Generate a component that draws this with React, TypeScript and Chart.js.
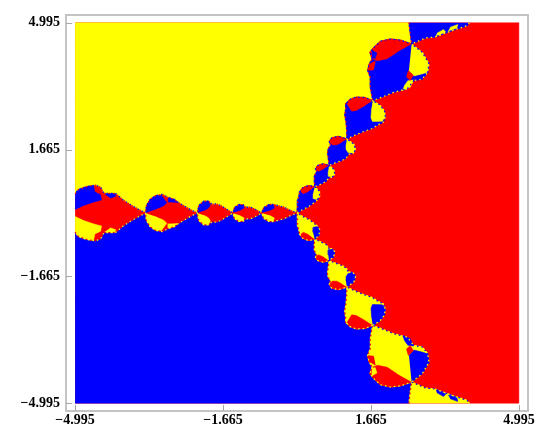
import React, { useEffect, useRef } from "react";
import { Chart, registerables } from "chart.js";

Chart.register(...registerables);

type P = number[];

const tickValues = [-4.995, -1.665, 1.665, 4.995];
const tickLabels = ["\u22124.995", "\u22121.665", "1.665", "4.995"];

const RED = "#ff0000";
const YELLOW = "#ffff00";
const BLUE = "#0000ff";

// Whole plot
const plotSquare: P[] = [[-4.995, -4.995], [4.995, -4.995], [4.995, 4.995], [-4.995, 4.995]];

// Left arm edges, outer end to centre
const leftArmUpper: P[] = [[-4.995,.5],[-4.92,.62],[-4.72,.7],[-4.53,.73],[-4.42,.68],[-4.35,.52],[-4.08,.51],[-3.9,.33],[-3.68,.17],[-3.41,0],[-3.39,.2],[-3.3,.37],[-3.18,.46],[-3.03,.49],[-2.92,.42],[-2.77,.36],[-2.62,.24],[-2.4,.09],[-2.245,0],[-2.21,.2],[-2.1,.31],[-1.985,.31],[-1.91,.225],[-1.83,.24],[-1.72,.2],[-1.57,.09],[-1.445,0],[-1.41,.14],[-1.31,.225],[-1.21,.22],[-1.16,.155],[-1.05,.155],[-.93,.09],[-.8,0],[-.75,.14],[-.63,.225],[-.52,.225],[-.445,.2],[-.3,.155],[-.15,.07],[0,0]];
const leftArmLower: P[] = [[-4.995,-.5],[-4.92,-.62],[-4.72,-.7],[-4.53,-.73],[-4.42,-.68],[-4.35,-.52],[-4.08,-.51],[-3.9,-.33],[-3.68,-.17],[-3.41,0],[-3.39,-.2],[-3.3,-.37],[-3.18,-.46],[-3.03,-.49],[-2.92,-.42],[-2.77,-.36],[-2.62,-.24],[-2.4,-.09],[-2.245,0],[-2.21,-.2],[-2.1,-.31],[-1.985,-.31],[-1.91,-.225],[-1.83,-.24],[-1.72,-.2],[-1.57,-.09],[-1.445,0],[-1.41,-.14],[-1.31,-.225],[-1.21,-.22],[-1.16,-.155],[-1.05,-.155],[-.93,-.09],[-.8,0],[-.75,-.14],[-.63,-.225],[-.52,-.225],[-.445,-.2],[-.3,-.155],[-.15,-.07],[0,0]];

// Upper arm edges
const upperArmLeft: P[] = [[2.52,4.995],[2.54,4.79],[2.58,4.44],[2.33,4.54],[2.1,4.57],[1.88,4.51],[1.73,4.35],[1.64,4.22],[1.69,4.05],[1.62,3.9],[1.59,3.74],[1.65,3.56],[1.65,3.3],[1.705,2.95],[1.522,3.036],[1.33,3.043],[1.192,2.984],[1.091,2.869],[1.096,2.739],[1.073,2.579],[1.102,2.389],[1.122,2.123],[1.122,1.944],[.932,2.014],[.782,1.974],[.725,1.874],[.76,1.767],[.707,1.705],[.687,1.59],[.707,1.405],[.7225,1.251],[.584,1.291],[.46,1.247],[.414,1.158],[.446,1.083],[.391,.987],[.387,.85],[.4,.693],[.254,.72],[.12,.659],[.065,.563],[.05,.485],[.016,.338],[.014,.165],[0,0]];
const upperArmRight: P[] = [[3.88,4.995],[3.83,4.92],[3.6,4.83],[3.4,4.75],[3.1,4.62],[2.9,4.6],[2.58,4.44],[2.82,4.22],[2.97,3.92],[2.94,3.69],[2.82,3.52],[2.63,3.48],[2.48,3.26],[2.18,3.17],[1.99,3.08],[1.705,2.95],[1.868,2.836],[1.97,2.673],[1.988,2.524],[1.939,2.379],[1.824,2.319],[1.697,2.219],[1.518,2.149],[1.278,2.033],[1.122,1.944],[1.278,1.814],[1.318,1.664],[1.261,1.564],[1.15,1.541],[1.123,1.465],[1.033,1.39],[.863,1.315],[.7225,1.251],[.826,1.151],[.85,1.021],[.796,.938],[.714,.927],[.659,.831],[.543,.76],[.4,.693],[.496,.58],[.51,.433],[.455,.337],[.396,.285],[.284,.182],[.136,.095],[0,0]];

// Lower arm edges
const lowerArmLeft: P[] = [[2.52,-4.995],[2.54,-4.79],[2.58,-4.44],[2.33,-4.54],[2.1,-4.57],[1.88,-4.51],[1.73,-4.35],[1.64,-4.22],[1.69,-4.05],[1.62,-3.9],[1.59,-3.74],[1.65,-3.56],[1.65,-3.3],[1.705,-2.95],[1.522,-3.036],[1.33,-3.043],[1.192,-2.984],[1.091,-2.869],[1.096,-2.739],[1.073,-2.579],[1.102,-2.389],[1.122,-2.123],[1.122,-1.944],[.932,-2.014],[.782,-1.974],[.725,-1.874],[.76,-1.767],[.707,-1.705],[.687,-1.59],[.707,-1.405],[.7225,-1.251],[.584,-1.291],[.46,-1.247],[.414,-1.158],[.446,-1.083],[.391,-.987],[.387,-.85],[.4,-.693],[.254,-.72],[.12,-.659],[.065,-.563],[.05,-.485],[.016,-.338],[.014,-.165],[0,0]];
const lowerArmRight: P[] = [[3.88,-4.995],[3.83,-4.92],[3.6,-4.83],[3.4,-4.75],[3.1,-4.62],[2.9,-4.6],[2.58,-4.44],[2.82,-4.22],[2.97,-3.92],[2.94,-3.69],[2.82,-3.52],[2.63,-3.48],[2.48,-3.26],[2.18,-3.17],[1.99,-3.08],[1.705,-2.95],[1.868,-2.836],[1.97,-2.673],[1.988,-2.524],[1.939,-2.379],[1.824,-2.319],[1.697,-2.219],[1.518,-2.149],[1.278,-2.033],[1.122,-1.944],[1.278,-1.814],[1.318,-1.664],[1.261,-1.564],[1.15,-1.541],[1.123,-1.465],[1.033,-1.39],[.863,-1.315],[.7225,-1.251],[.826,-1.151],[.85,-1.021],[.796,-.938],[.714,-.927],[.659,-.831],[.543,-.76],[.4,-.693],[.496,-.58],[.51,-.433],[.455,-.337],[.396,-.285],[.284,-.182],[.136,-.095],[0,0]];

// Lobes on the left arm
const blueLobesLeft: P[][] = [
  [[-4.995,.5],[-4.92,.62],[-4.72,.7],[-4.58,.72],[-4.55,.55],[-4.42,.48],[-4.4,.34],[-4.57,.29],[-4.8,.2],[-4.995,.09]],
  [[-4.33,.5],[-4.1,.52],[-4.08,.44],[-4.2,.39]],
  [[-3.41,0],[-3.39,.2],[-3.3,.37],[-3.18,.46],[-3.05,.46],[-2.98,.35],[-2.93,.27],[-3,.19],[-3.22,.08]],
  [[-2.9,.28],[-2.9,.4],[-2.75,.36],[-2.68,.27]],
  [[-2.245,0],[-2.21,.2],[-2.1,.31],[-1.985,.31],[-1.95,.2],[-2,.12],[-2.1,.06]],
  [[-1.445,0],[-1.41,.14],[-1.31,.225],[-1.21,.21],[-1.19,.13],[-1.3,.06]],
  [[-.8,0],[-.75,.14],[-.63,.225],[-.53,.21],[-.51,.13],[-.62,.06]],
];
const yellowLobesLeft: P[][] = [
  [[-4.995,-.5],[-4.92,-.62],[-4.72,-.7],[-4.58,-.72],[-4.55,-.55],[-4.42,-.48],[-4.4,-.34],[-4.57,-.29],[-4.8,-.2],[-4.995,-.09]],
  [[-4.33,-.5],[-4.1,-.52],[-4.08,-.44],[-4.2,-.39]],
  [[-3.41,0],[-3.39,-.2],[-3.3,-.37],[-3.18,-.46],[-3.05,-.46],[-2.98,-.35],[-2.93,-.27],[-3,-.19],[-3.22,-.08]],
  [[-2.9,-.28],[-2.9,-.4],[-2.75,-.36],[-2.68,-.27]],
  [[-2.245,0],[-2.21,-.2],[-2.1,-.31],[-1.985,-.31],[-1.95,-.2],[-2,-.12],[-2.1,-.06]],
  [[-1.445,0],[-1.41,-.14],[-1.31,-.225],[-1.21,-.21],[-1.19,-.13],[-1.3,-.06]],
  [[-.8,0],[-.75,-.14],[-.63,-.225],[-.53,-.21],[-.51,-.13],[-.62,-.06]],
];

// Lobes on the upper arm
const yellowLobesUpper: P[][] = [
  [[2.58,4.44],[2.82,4.22],[2.97,3.92],[2.94,3.69],[2.82,3.65],[2.63,3.6],[2.52,3.74]],
  [[2.62,3.5],[2.55,3.3],[2.38,3.22],[2.42,3.35],[2.5,3.48]],
  [[3.12,4.63],[3.35,4.75],[3.3,4.82],[3.15,4.72]],
  [[3.4,4.77],[3.6,4.85],[3.62,4.95],[3.45,4.88]],
  [[1.705,2.95],[1.868,2.836],[1.97,2.673],[1.988,2.524],[1.923,2.411],[1.793,2.406],[1.699,2.402],[1.665,2.503],[1.679,2.749]],
  [[1.122,1.944],[1.278,1.814],[1.318,1.664],[1.261,1.564],[1.148,1.589],[1.104,1.672],[1.102,1.789]],
  [[.7225,1.251],[.826,1.151],[.85,1.021],[.787,.943],[.708,.966],[.702,1.096]],
  [[.4,.693],[.496,.58],[.51,.433],[.447,.354],[.368,.377],[.362,.507]],
];
const redLobesUpper: P[][] = [
  [[2.58,4.44],[2.33,4.54],[2.1,4.57],[1.88,4.51],[1.73,4.35],[1.64,4.22],[1.69,4.05],[1.82,4],[2.03,4.05],[2.25,4.22]],
  [[1.77,4],[1.62,3.9],[1.59,3.74],[1.73,3.76]],
  [[2.5,3.74],[2.62,3.62],[2.55,3.48],[2.46,3.58]],
  [[1.705,2.95],[1.522,3.036],[1.33,3.043],[1.192,2.984],[1.127,2.871],[1.187,2.756],[1.231,2.672],[1.335,2.693],[1.541,2.829]],
  [[1.122,1.944],[.932,2.014],[.782,1.974],[.725,1.874],[.802,1.789],[.896,1.792],[.998,1.849]],
  [[.7225,1.251],[.584,1.291],[.46,1.247],[.423,1.153],[.482,1.096],[.598,1.156]],
  [[.4,.693],[.254,.72],[.12,.659],[.083,.564],[.142,.507],[.258,.567]],
];
const blueDetailsUpper: P[][] = [
  [[2.64,3.56],[2.82,3.63],[2.94,3.68],[2.82,3.52],[2.65,3.48]],
  [[1.68,4.28],[1.8,4.2],[1.76,4.06],[1.68,4.08]],
];

// Lobes on the lower arm
const blueLobesLower: P[][] = [
  [[2.58,-4.44],[2.82,-4.22],[2.97,-3.92],[2.94,-3.69],[2.82,-3.65],[2.63,-3.6],[2.52,-3.74]],
  [[2.62,-3.5],[2.55,-3.3],[2.38,-3.22],[2.42,-3.35],[2.5,-3.48]],
  [[3.12,-4.63],[3.35,-4.75],[3.3,-4.82],[3.15,-4.72]],
  [[3.4,-4.77],[3.6,-4.85],[3.62,-4.95],[3.45,-4.88]],
  [[1.705,-2.95],[1.868,-2.836],[1.97,-2.673],[1.988,-2.524],[1.923,-2.411],[1.793,-2.406],[1.699,-2.402],[1.665,-2.503],[1.679,-2.749]],
  [[1.122,-1.944],[1.278,-1.814],[1.318,-1.664],[1.261,-1.564],[1.148,-1.589],[1.104,-1.672],[1.102,-1.789]],
  [[.7225,-1.251],[.826,-1.151],[.85,-1.021],[.787,-.943],[.708,-.966],[.702,-1.096]],
  [[.4,-.693],[.496,-.58],[.51,-.433],[.447,-.354],[.368,-.377],[.362,-.507]],
];
const redLobesLower: P[][] = [
  [[2.58,-4.44],[2.33,-4.54],[2.1,-4.57],[1.88,-4.51],[1.73,-4.35],[1.64,-4.22],[1.69,-4.05],[1.82,-4],[2.03,-4.05],[2.25,-4.22]],
  [[1.77,-4],[1.62,-3.9],[1.59,-3.74],[1.73,-3.76]],
  [[2.5,-3.74],[2.62,-3.62],[2.55,-3.48],[2.46,-3.58]],
  [[1.705,-2.95],[1.522,-3.036],[1.33,-3.043],[1.192,-2.984],[1.127,-2.871],[1.187,-2.756],[1.231,-2.672],[1.335,-2.693],[1.541,-2.829]],
  [[1.122,-1.944],[.932,-2.014],[.782,-1.974],[.725,-1.874],[.802,-1.789],[.896,-1.792],[.998,-1.849]],
  [[.7225,-1.251],[.584,-1.291],[.46,-1.247],[.423,-1.153],[.482,-1.096],[.598,-1.156]],
  [[.4,-.693],[.254,-.72],[.12,-.659],[.083,-.564],[.142,-.507],[.258,-.567]],
];
const yellowDetailsLower: P[][] = [
  [[2.64,-3.56],[2.82,-3.63],[2.94,-3.68],[2.82,-3.52],[2.65,-3.48]],
  [[1.68,-4.28],[1.8,-4.2],[1.76,-4.06],[1.68,-4.08]],
];

const toPoints = (a: P[]) => a.map(([x, y]) => ({ x, y }));
const backwards = (a: P[]) => [...a].reverse();

const shape = (a: P[], color: string) => ({
  data: toPoints(a),
  showLine: true,
  fill: "shape",
  backgroundColor: color,
  borderColor: color,
  borderWidth: 0.5,
  pointRadius: 0,
  tension: 0,
});
const beads = (a: P[], color: string, dashOffset: number) => ({
  data: toPoints(a),
  showLine: true,
  fill: false,
  borderColor: color,
  borderWidth: 1.2,
  borderDash: [1.5, 3],
  borderDashOffset: dashOffset,
  pointRadius: 0,
  tension: 0,
});

// Painted back to front
const layers = [
  shape(plotSquare, RED),
  shape([[-4.995, 4.995], ...upperArmLeft, ...backwards(leftArmUpper)], YELLOW),
  shape([[-4.995, -4.995], ...lowerArmLeft, ...backwards(leftArmLower)], BLUE),
  shape([...upperArmLeft, ...backwards(upperArmRight)], BLUE),
  shape([...lowerArmLeft, ...backwards(lowerArmRight)], YELLOW),
  ...blueLobesLeft.map((l) => shape(l, BLUE)),
  ...yellowLobesLeft.map((l) => shape(l, YELLOW)),
  ...yellowLobesUpper.map((l) => shape(l, YELLOW)),
  ...redLobesUpper.map((l) => shape(l, RED)),
  ...blueDetailsUpper.map((l) => shape(l, BLUE)),
  ...blueLobesLower.map((l) => shape(l, BLUE)),
  ...redLobesLower.map((l) => shape(l, RED)),
  ...yellowDetailsLower.map((l) => shape(l, YELLOW)),
  beads(leftArmUpper, RED, 0),
  beads(leftArmUpper, BLUE, 2.2),
  beads(leftArmLower, RED, 0),
  beads(leftArmLower, YELLOW, 2.2),
  beads(upperArmLeft, RED, 0),
  beads(upperArmLeft, BLUE, 2.2),
  beads(upperArmRight, YELLOW, 0),
  beads(upperArmRight, BLUE, 2.2),
  beads(lowerArmLeft, RED, 0),
  beads(lowerArmLeft, YELLOW, 2.2),
  beads(lowerArmRight, YELLOW, 0),
  beads(lowerArmRight, BLUE, 2.2),
];

const framePlugin = {
  id: "frame",
  afterDraw(chart: any) {
    const { ctx, chartArea: a, scales } = chart;
    ctx.save();
    ctx.strokeStyle = "#c4c4c4";
    ctx.lineWidth = 2;
    ctx.strokeRect(a.left, a.top, a.right - a.left, a.bottom - a.top);
    ctx.strokeStyle = "#a8a8a8";
    ctx.lineWidth = 1;
    ctx.beginPath();
    tickValues.forEach((v) => {
      const px = Math.round(scales.x.getPixelForValue(v)) + 0.5;
      const py = Math.round(scales.y.getPixelForValue(v)) + 0.5;
      ctx.moveTo(px, a.bottom);
      ctx.lineTo(px, a.bottom - 6);
      ctx.moveTo(a.left, py);
      ctx.lineTo(a.left + 6, py);
    });
    ctx.stroke();
    ctx.restore();
  },
};

const axis = (extra: object) => ({
  type: "linear",
  min: -5.2,
  max: 5.2,
  grid: { display: false, drawTicks: false },
  border: { display: false },
  afterBuildTicks(scale: any) {
    scale.ticks = tickValues.map((value) => ({ value }));
  },
  ...extra,
});

const tickFont = { family: "'Liberation Serif'", size: 14, weight: "bold" };
const tickText = (value: number) => tickLabels[tickValues.indexOf(value)];

export default function App() {
  const ref = useRef<HTMLCanvasElement>(null);
  useEffect(() => {
    const chart = new Chart(ref.current as HTMLCanvasElement, {
      type: "scatter",
      data: { datasets: [...layers].reverse() as any },
      options: {
        animation: false,
        responsive: false,
        layout: { padding: { top: 15, right: 22, left: 0, bottom: 0 } },
        plugins: { legend: { display: false }, tooltip: { enabled: false } },
        scales: {
          x: axis({
            afterFit(s: any) { s.height = 30; },
            ticks: { autoSkip: false, maxRotation: 0, color: "#000", padding: 1, font: tickFont, callback: tickText },
          }),
          y: axis({
            afterFit(s: any) { s.width = 66; },
            ticks: { autoSkip: false, color: "#000", padding: 6, font: tickFont, callback: tickText },
          }),
        },
      } as any,
      plugins: [framePlugin],
    });
    return () => chart.destroy();
  }, []);
  return (
    <canvas
      ref={ref}
      width={550}
      height={441}
      style={{ position: "absolute", left: 0, top: 0, width: 550, height: 441, display: "block" }}
    />
  );
}
